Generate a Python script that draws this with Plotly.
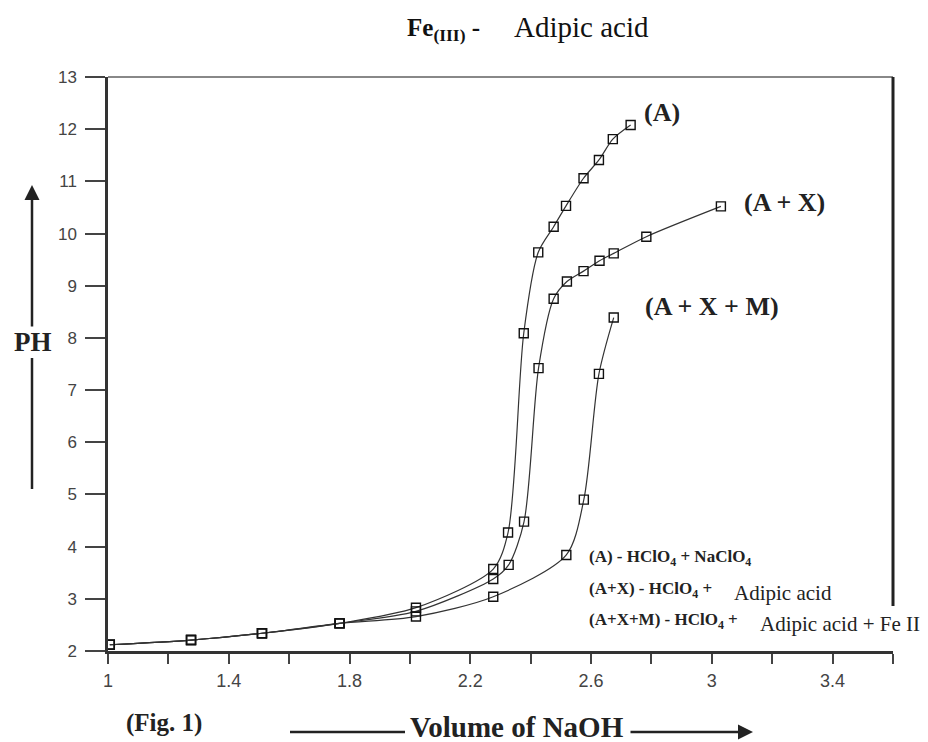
import plotly.graph_objects as go

# ---------------- data ----------------
vol_A = [1.006, 1.275, 1.51, 1.767, 2.02, 2.276, 2.325, 2.377, 2.425, 2.476, 2.517, 2.575, 2.626, 2.672, 2.731]
ph_A = [2.12, 2.21, 2.34, 2.53, 2.83, 3.57, 4.27, 8.09, 9.64, 10.13, 10.53, 11.06, 11.41, 11.81, 12.08]

vol_AX = [1.006, 1.275, 1.51, 1.767, 2.02, 2.276, 2.327, 2.378, 2.426, 2.476, 2.52, 2.575, 2.628, 2.675, 2.783, 3.03]
ph_AX = [2.12, 2.21, 2.34, 2.53, 2.76, 3.38, 3.65, 4.48, 7.42, 8.75, 9.08, 9.28, 9.48, 9.62, 9.94, 10.52]

vol_AXM = [1.006, 1.275, 1.51, 1.767, 2.02, 2.276, 2.518, 2.576, 2.626, 2.675]
ph_AXM = [2.12, 2.21, 2.34, 2.53, 2.66, 3.04, 3.84, 4.90, 7.31, 8.39]

series_names = ["(A)", "(A + X)", "(A + X + M)"]
x_tick_vals = [1, 1.4, 1.8, 2.2, 2.6, 3, 3.4]
x_tick_text = ["1", "1.4", "1.8", "2.2", "2.6", "3", "3.4"]
y_tick_vals = list(range(2, 14))

# ---------------- layout helpers ----------------
# page offset of the figure (default body margin)
OFF = 8
W, H = 928 - OFF, 742 - OFF
# plot area in page pixels
L, R, T, B = 108, 893, 77, 651


def px(x):
    return (x - L) / (R - L)


def py(y):
    return (B - y) / (B - T)


SERIF = "Liberation Serif, Times New Roman, serif"

fig = go.Figure()
for xs, ys, name in [(vol_A, ph_A, series_names[0]),
                     (vol_AX, ph_AX, series_names[1]),
                     (vol_AXM, ph_AXM, series_names[2])]:
    fig.add_trace(go.Scatter(
        x=xs, y=ys, name=name, mode="lines+markers",
        line=dict(color="#333333", width=1.2, shape="spline", smoothing=0.8),
        marker=dict(symbol="square-open", size=9, color="#111111",
                    line=dict(width=1.4, color="#111111")),
        showlegend=False, hoverinfo="x+y+name"))

fig.update_layout(
    width=W, height=H,
    margin=dict(l=L - OFF, r=W - (R - OFF), t=T - OFF, b=H - (B - OFF), pad=0),
    paper_bgcolor="white", plot_bgcolor="white",
    font=dict(family="Liberation Sans, Arial, sans-serif", color="#333333"),
    xaxis=dict(range=[1, 3.6], tickvals=x_tick_vals, ticktext=x_tick_text,
               ticks="outside", ticklen=10, tickwidth=1.5, tickcolor="#444444",
               showline=True, linewidth=3, linecolor="#333333",
               showgrid=False, zeroline=False,
               minor=dict(dtick=0.2, tick0=1, ticks="outside", ticklen=10,
                          tickwidth=1.5, tickcolor="#444444", showgrid=False),
               tickfont=dict(family="Liberation Sans Narrow, Arial Narrow, Liberation Sans, sans-serif",
                             size=18, color="#444444"),
               ticklabelstandoff=1),
    yaxis=dict(range=[2, 13], tickvals=y_tick_vals,
               ticks="outside", ticklen=20, tickwidth=1.5, tickcolor="#444444",
               showline=True, linewidth=2.5, linecolor="#333333",
               showgrid=False, zeroline=False,
               tickfont=dict(family="Liberation Sans, Arial, sans-serif", size=17, color="#444444"),
               ticklabelstandoff=5),
)

# borders: grey top line, dark partial right line
fig.add_shape(type="line", xref="paper", yref="paper", x0=0, x1=1, y0=1, y1=1,
              line=dict(color="#888888", width=2))
fig.add_shape(type="line", xref="paper", yref="paper", x0=1, x1=1, y0=1, y1=py(606),
              line=dict(color="#222222", width=3))

annots = []
# title
annots.append(dict(x=px(482), y=py(30), xref="paper", yref="paper", xanchor="right", yanchor="middle",
                   text="<b>Fe<sub>(III)</sub> -</b>", showarrow=False,
                   font=dict(family=SERIF, size=25, color="#111111")))
annots.append(dict(x=px(512), y=py(27), xref="paper", yref="paper", xanchor="left", yanchor="middle",
                   text="Adipic acid", showarrow=False,
                   font=dict(family=SERIF, size=29, color="#111111")))
# curve labels
for (cx, cy), name in zip([(662, 112), (784, 202), (712, 306)], series_names):
    annots.append(dict(x=px(cx), y=py(cy), xref="paper", yref="paper", xanchor="center", yanchor="middle",
                       text="<b>" + name + "</b>", showarrow=False,
                       font=dict(family=SERIF, size=26, color="#222222")))
# y-axis title and arrow
annots.append(dict(x=px(33), y=py(342), xref="paper", yref="paper", xanchor="center", yanchor="middle",
                   text="<b>PH</b>", showarrow=False,
                   font=dict(family=SERIF, size=27, color="#222222")))
annots.append(dict(x=px(32), y=py(185), xref="paper", yref="paper", text="", showarrow=True,
                   ax=0, ay=143, arrowhead=2, arrowsize=1.2, arrowwidth=2.5, arrowcolor="#222222"))
fig.add_shape(type="line", xref="paper", yref="paper", x0=px(32), x1=px(32), y0=py(358), y1=py(489),
              line=dict(color="#222222", width=2.5))
# bottom texts
annots.append(dict(x=px(164), y=py(723), xref="paper", yref="paper", xanchor="center", yanchor="middle",
                   text="<b>(Fig. 1)</b>", showarrow=False,
                   font=dict(family=SERIF, size=25, color="#222222")))
annots.append(dict(x=px(517), y=py(727), xref="paper", yref="paper", xanchor="center", yanchor="middle",
                   text="<b>Volume of NaOH</b>", showarrow=False,
                   font=dict(family=SERIF, size=29, color="#222222")))
fig.add_shape(type="line", xref="paper", yref="paper", x0=px(290), x1=px(405), y0=py(732), y1=py(732),
              line=dict(color="#222222", width=2.5))
annots.append(dict(x=px(753), y=py(732), xref="paper", yref="paper", text="", showarrow=True,
                   ax=-124, ay=0, arrowhead=2, arrowsize=1.2, arrowwidth=2.5, arrowcolor="#222222"))
# composition key
key_rows = [
    (558, "<b>(A) - HClO<sub>4</sub> + NaClO<sub>4</sub></b>", None, None),
    (590, "<b>(A+X) - HClO<sub>4</sub> +</b>", 732, "Adipic acid"),
    (621, "<b>(A+X+M) - HClO<sub>4</sub> +</b>", 758, "Adipic acid + Fe II"),
]
for yy, bold_txt, x2, reg_txt in key_rows:
    annots.append(dict(x=px(587), y=py(yy), xref="paper", yref="paper", xanchor="left", yanchor="middle",
                       text=bold_txt, showarrow=False,
                       font=dict(family=SERIF, size=17, color="#222222")))
    if reg_txt:
        annots.append(dict(x=px(x2), y=py(yy + 3), xref="paper", yref="paper", xanchor="left",
                           yanchor="middle", text=reg_txt, showarrow=False,
                           font=dict(family=SERIF, size=21, color="#222222")))

fig.update_layout(annotations=annots)
fig.write_html("out.html")
